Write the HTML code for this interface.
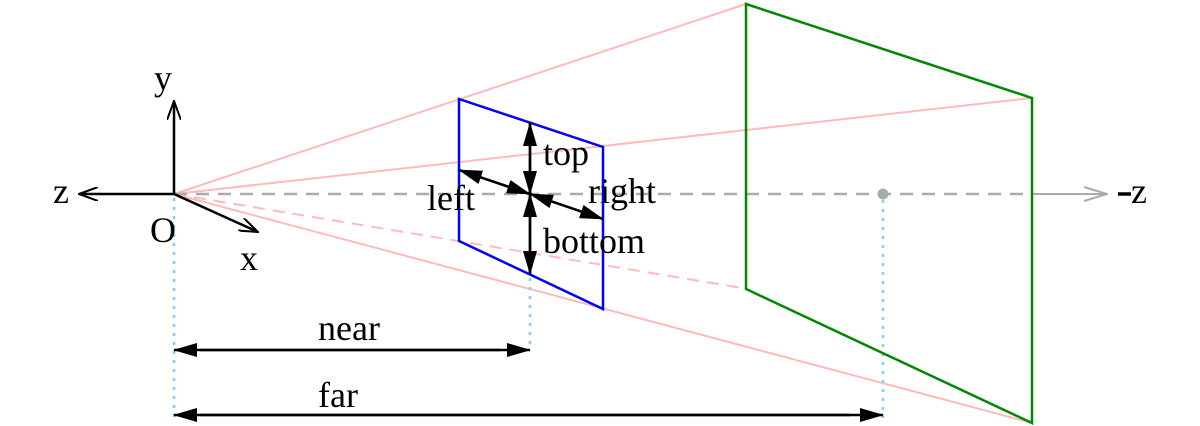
<!DOCTYPE html>
<html><head><meta charset="utf-8"><style>
html,body{margin:0;padding:0;background:#fff;}
svg{display:block;}
text{font-family:"Liberation Serif",serif;font-size:36px;fill:#000;}
</style></head><body>
<svg width="1200" height="426" viewBox="0 0 1200 426" xmlns="http://www.w3.org/2000/svg">
<defs>
<marker id="ab" viewBox="0 0 24 14" markerWidth="24" markerHeight="14" refX="23" refY="7" orient="auto" markerUnits="userSpaceOnUse">
<path d="M0,0 L24,7 L0,14 Z" fill="#000"/></marker>
<marker id="ao" viewBox="0 0 20 14" markerWidth="20" markerHeight="14" refX="19" refY="7" orient="auto" markerUnits="userSpaceOnUse">
<path d="M0,0 L19,7 L0,14" fill="none" stroke="#000" stroke-width="2"/></marker>
<marker id="ag" viewBox="0 0 24 16" markerWidth="24" markerHeight="16" refX="23" refY="8" orient="auto" markerUnits="userSpaceOnUse">
<path d="M0,1 L23,8 L0,15" fill="none" stroke="#aaa" stroke-width="2"/></marker>
</defs>
<g stroke="#ffbaba" stroke-width="2" fill="none">
<line x1="174" y1="194" x2="746" y2="4"/>
<line x1="174" y1="194" x2="1032" y2="98"/>
<line x1="174" y1="194" x2="1032" y2="423"/>
<line x1="174" y1="194" x2="742" y2="288" stroke-dasharray="12,8"/>
</g>
<line x1="174" y1="194" x2="1032" y2="194" stroke="#aaa" stroke-width="2.5" stroke-dasharray="13,9"/>
<line x1="1032" y1="194" x2="1107" y2="194" stroke="#aaa" stroke-width="2" marker-end="url(#ag)"/>
<circle cx="883" cy="194" r="5.5" fill="#aaa"/>
<line x1="1118" y1="194" x2="1131" y2="194" stroke="#000" stroke-width="3.5"/>
<text x="1131" y="203">z</text>
<g stroke="#88ccff" stroke-width="2.5" stroke-dasharray="3,6" fill="none">
<line x1="174" y1="198" x2="174" y2="418"/>
<line x1="530" y1="278" x2="530" y2="350"/>
<line x1="883" y1="200" x2="883" y2="418"/>
</g>
<polygon points="459,99 603,147 603,309 459,241" fill="none" stroke="#0000ff" stroke-width="2.5"/>
<polygon points="746,4 1032,98 1032,423 746,289" fill="none" stroke="#008800" stroke-width="2.5"/>
<g stroke="#000" stroke-width="2.5">
<line x1="530" y1="194" x2="530" y2="123" marker-end="url(#ab)"/>
<line x1="530" y1="194" x2="530" y2="274" marker-end="url(#ab)"/>
<line x1="530" y1="194" x2="459" y2="170" marker-end="url(#ab)"/>
<line x1="530" y1="194" x2="603" y2="219" marker-end="url(#ab)"/>
<line x1="530" y1="123" x2="530" y2="194" marker-end="url(#ab)"/>
<line x1="530" y1="274" x2="530" y2="194" marker-end="url(#ab)"/>
<line x1="459" y1="170" x2="530" y2="194" marker-end="url(#ab)"/>
<line x1="603" y1="219" x2="530" y2="194" marker-end="url(#ab)"/>
</g>
<text x="543" y="165">top</text>
<text x="427" y="210">left</text>
<text x="588" y="203">right</text>
<text x="543" y="253">bottom</text>
<g stroke="#000" stroke-width="2.5">
<line x1="174" y1="194" x2="174" y2="101" marker-end="url(#ao)"/>
<line x1="174" y1="194" x2="79" y2="194" marker-end="url(#ao)"/>
<line x1="174" y1="194" x2="258" y2="232" marker-end="url(#ao)"/>
</g>
<text x="154" y="90">y</text>
<text x="53" y="203">z</text>
<text x="150" y="242">O</text>
<text x="240" y="270">x</text>
<g stroke="#000" stroke-width="2.5">
<line x1="200" y1="350" x2="530" y2="350" marker-end="url(#ab)"/>
<line x1="500" y1="350" x2="174" y2="350" marker-end="url(#ab)"/>
<line x1="200" y1="415" x2="883" y2="415" marker-end="url(#ab)"/>
<line x1="850" y1="415" x2="174" y2="415" marker-end="url(#ab)"/>
</g>
<text x="318" y="340">near</text>
<text x="318" y="407">far</text>
</svg>
</body></html>
